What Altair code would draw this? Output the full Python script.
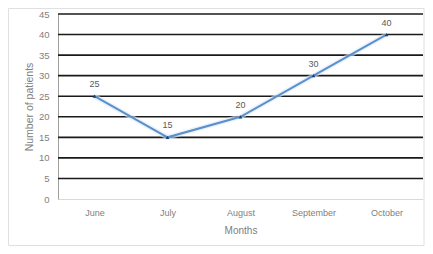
import altair as alt
import pandas as pd

months = ["June", "July", "August", "September", "October"]
patients = [25, 15, 20, 30, 40]
y_ticks = [0, 5, 10, 15, 20, 25, 30, 35, 40, 45]

df = pd.DataFrame({"Month": months, "Patients": patients})

FONT = "Liberation Sans"
y_scale = alt.Scale(domain=[0, 45], nice=False)
y_axis = alt.Axis(values=y_ticks, labelFontSize=9.5, labelColor="#808080",
                  titleFontSize=10.5, titleColor="#808080", titleFontWeight="normal",
                  domainColor="#a0a0a0", ticks=False, labelPadding=9,
                  titlePadding=4, grid=False,
                  labelFont=FONT, titleFont=FONT)

x_enc = alt.X("Month:N", sort=months, title="Months",
              scale=alt.Scale(paddingInner=0, paddingOuter=0.5),
              axis=alt.Axis(labelAngle=0, labelFontSize=9, labelColor="#808080",
                            titleFontSize=10, titleColor="#808080", titleFontWeight="normal",
                            domainColor="#d9d9d9", ticks=False, labelPadding=9,
                            titlePadding=8, labelFont=FONT, titleFont=FONT))
y_enc = alt.Y("Patients:Q", title="Number of patients", scale=y_scale, axis=y_axis)

grid_df = pd.DataFrame({"Patients": y_ticks[1:]})
grid = alt.Chart(grid_df).mark_rule(color="#1a1a1a", strokeWidth=1.6).encode(
    y=alt.Y("Patients:Q", title="Number of patients", scale=y_scale, axis=y_axis)
)

base = alt.Chart(df)
glow = base.mark_line(color="#dce9f7", strokeWidth=5, opacity=0.6).encode(x=x_enc, y=y_enc)
line = base.mark_line(color="#5b8fcc", strokeWidth=2).encode(x=x_enc, y=y_enc)
pts = base.mark_point(shape="triangle-up", filled=True, color="#1f3f6e", size=14, opacity=1).encode(x=x_enc, y=y_enc)
labels = base.mark_text(dy=-12, fontSize=9, color="#595959", font=FONT).encode(
    x=x_enc, y=y_enc, text="Patients:Q")

frame = alt.Chart(pd.DataFrame({"a": [0]})).mark_rect(
    fill=None, stroke="#e0e0e0", strokeWidth=1, clip=False
).encode(x=alt.value(-49.5), x2=alt.value(366), y=alt.value(-5.5), y2=alt.value(231.5))

chart = alt.layer(frame, grid, glow, line, pts, labels).properties(
    width=365, height=185,
    autosize=alt.AutoSizeParams(type="none"),
    padding={"left": 50, "top": 6, "right": 2, "bottom": 47},
).configure_view(stroke=None)

chart.save("out.html", embed_options={"renderer": "svg", "actions": False})
